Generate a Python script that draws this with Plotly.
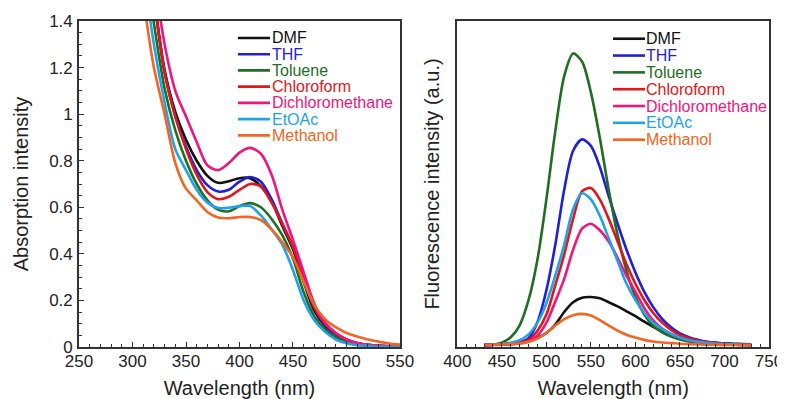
import plotly.graph_objects as go

# ---------------- data ----------------
solvents = ["DMF", "THF", "Toluene", "Chloroform", "Dichloromethane", "EtOAc", "Methanol"]
colors = ["#111111", "#1f1fd8", "#1f6e22", "#e0161b", "#f0157d", "#22a2e6", "#f26522"]

abs_wl = [300, 310, 320, 330, 340, 350, 360, 370, 380, 390, 400, 410, 420, 430, 440,
          450, 460, 470, 480, 490, 500, 510, 520, 530, 540, 550]
abs_dmf = [2.2, 1.85, 1.5, 1.19, 1.01, 0.89, 0.80, 0.735, 0.705, 0.712, 0.725, 0.725, 0.69, 0.625, 0.52,
           0.42, 0.28, 0.155, 0.09, 0.055, 0.03, 0.016, 0.009, 0.005, 0.003, 0.002]
abs_thf = [2.2, 1.85, 1.5, 1.18, 0.99, 0.86, 0.76, 0.695, 0.668, 0.675, 0.71, 0.73, 0.71, 0.635, 0.53,
           0.43, 0.29, 0.165, 0.095, 0.055, 0.03, 0.015, 0.008, 0.005, 0.003, 0.002]
abs_tol = [2.0, 1.7, 1.39, 1.11, 0.93, 0.80, 0.70, 0.63, 0.59, 0.583, 0.605, 0.618, 0.60, 0.55, 0.48,
           0.38, 0.235, 0.13, 0.075, 0.043, 0.02, 0.01, 0.005, 0.003, 0.002, 0.001]
abs_chl = [2.2, 1.85, 1.5, 1.18, 0.99, 0.85, 0.74, 0.665, 0.635, 0.645, 0.675, 0.70, 0.69, 0.62, 0.53,
           0.43, 0.30, 0.17, 0.10, 0.06, 0.032, 0.017, 0.009, 0.005, 0.003, 0.002]
abs_dcm = [2.3, 1.95, 1.6, 1.3, 1.1, 0.99, 0.88, 0.78, 0.76, 0.79, 0.835, 0.855, 0.83, 0.74, 0.59,
           0.46, 0.32, 0.185, 0.105, 0.06, 0.032, 0.017, 0.009, 0.005, 0.003, 0.002]
abs_eto = [1.95, 1.62, 1.3, 1.05, 0.85, 0.76, 0.675, 0.62, 0.597, 0.598, 0.605, 0.605, 0.565, 0.505, 0.44,
           0.33, 0.20, 0.115, 0.065, 0.032, 0.016, 0.008, 0.004, 0.002, 0.001, 0.001]
abs_met = [1.85, 1.5, 1.2, 1.0, 0.79, 0.68, 0.63, 0.58, 0.556, 0.553, 0.558, 0.558, 0.545, 0.505, 0.45,
           0.385, 0.28, 0.18, 0.12, 0.085, 0.06, 0.045, 0.032, 0.023, 0.015, 0.01]

fl_wl = [430, 440, 450, 460, 470, 480, 490, 500, 510, 520, 530, 540, 550, 560, 570, 580,
         590, 600, 610, 620, 630, 640, 650, 660, 670, 680, 690, 700, 710, 720, 730]
fl_dmf = [0.002, 0.003, 0.004, 0.006, 0.009, 0.014, 0.023, 0.038, 0.064, 0.103, 0.133, 0.147, 0.149, 0.145,
          0.133, 0.12, 0.105, 0.09, 0.073, 0.057, 0.043, 0.032, 0.024, 0.018, 0.014, 0.01, 0.008, 0.006,
          0.005, 0.004, 0.003]
fl_thf = [0.001, 0.002, 0.003, 0.005, 0.009, 0.022, 0.072, 0.17, 0.31, 0.48, 0.60, 0.635, 0.615, 0.55, 0.46,
          0.375, 0.295, 0.225, 0.165, 0.118, 0.082, 0.056, 0.037, 0.025, 0.017, 0.011, 0.008, 0.005,
          0.003, 0.002, 0.001]
fl_tol = [0.001, 0.002, 0.008, 0.025, 0.062, 0.14, 0.265, 0.45, 0.66, 0.83, 0.9, 0.875, 0.78, 0.64, 0.48,
          0.34, 0.23, 0.15, 0.095, 0.06, 0.04, 0.027, 0.018, 0.012, 0.008, 0.006, 0.004, 0.003, 0.002,
          0.001, 0.001]
fl_chl = [0.001, 0.002, 0.003, 0.005, 0.008, 0.017, 0.045, 0.095, 0.185, 0.28, 0.39, 0.475, 0.485, 0.45,
          0.39, 0.32, 0.25, 0.19, 0.14, 0.10, 0.07, 0.048, 0.032, 0.022, 0.015, 0.01, 0.007, 0.005, 0.003,
          0.002, 0.001]
fl_dcm = [0.0, 0.001, 0.002, 0.003, 0.006, 0.012, 0.03, 0.07, 0.135, 0.205, 0.295, 0.36, 0.375, 0.355,
          0.32, 0.27, 0.215, 0.165, 0.115, 0.077, 0.052, 0.035, 0.024, 0.016, 0.011, 0.007, 0.005, 0.003,
          0.002, 0.001, 0.001]
fl_eto = [0.001, 0.002, 0.004, 0.008, 0.016, 0.034, 0.07, 0.13, 0.215, 0.31, 0.42, 0.469, 0.45, 0.40,
          0.33, 0.26, 0.19, 0.14, 0.10, 0.07, 0.05, 0.035, 0.024, 0.016, 0.011, 0.008, 0.005, 0.004,
          0.003, 0.002, 0.001]
fl_met = [0.001, 0.002, 0.003, 0.004, 0.006, 0.011, 0.021, 0.038, 0.061, 0.081, 0.093, 0.097, 0.092, 0.078,
          0.061, 0.045, 0.033, 0.024, 0.017, 0.012, 0.009, 0.007, 0.005, 0.004, 0.003, 0.002, 0.002, 0.001,
          0.001, 0.001, 0.001]

abs_series = [abs_dmf, abs_thf, abs_tol, abs_chl, abs_dcm, abs_eto, abs_met]
fl_series = [fl_dmf, fl_thf, fl_tol, fl_chl, fl_dcm, fl_eto, fl_met]

abs_xticks = [250, 300, 350, 400, 450, 500, 550]
abs_yticks = [0, 0.2, 0.4, 0.6, 0.8, 1, 1.2, 1.4]
fl_xticks = [400, 450, 500, 550, 600, 650, 700, 750]

# ---------------- figure ----------------
FONT = "Arial, 'Liberation Sans', sans-serif"
AXC = "#333333"
fig = go.Figure()

for name, col, ys in zip(solvents, colors, abs_series):
    fig.add_trace(go.Scatter(x=abs_wl, y=ys, mode="lines", name=name, showlegend=False,
                             line=dict(color=col, width=2.6, shape="spline", smoothing=0.8),
                             xaxis="x", yaxis="y"))
for name, col, ys in zip(solvents, colors, fl_series):
    fig.add_trace(go.Scatter(x=fl_wl, y=ys, mode="lines", name=name, showlegend=False,
                             line=dict(color=col, width=2.6, shape="spline", smoothing=0.8),
                             xaxis="x2", yaxis="y2"))

common = dict(showline=True, mirror=True, linecolor=AXC, linewidth=1.6, showgrid=False,
              zeroline=False, tickcolor=AXC, tickwidth=1.3, ticklen=5, automargin=False,
              tickfont=dict(family=FONT, size=17, color="#222"))
title_font = dict(family=FONT, size=20, color="#222")
xminor = dict(ticks="inside", ticklen=3, dtick=10, tickcolor=AXC, tickwidth=1.2)

# the page body adds an 8px offset, so the figure is 8px smaller and margins compensate
fig.update_layout(
    width=777, height=391,
    margin=dict(l=71, r=16, t=13, b=52),
    paper_bgcolor="white", plot_bgcolor="white",
    xaxis=dict(domain=[0, 0.4652], range=[250, 550], tickvals=abs_xticks, ticks="inside",
               minor=xminor, ticklabelstandoff=-2,
               title=dict(text="Wavelength (nm)", font=title_font, standoff=12), anchor="y", **common),
    yaxis=dict(domain=[0, 1], range=[0, 1.4], tickvals=abs_yticks, ticks="inside",
               minor=dict(ticks="inside", ticklen=3, dtick=0.05, tickcolor=AXC, tickwidth=1.2),
               ticklabelstandoff=1,
               title=dict(text="Absorption intensity", font=title_font, standoff=15), anchor="x", **common),
    xaxis2=dict(domain=[0.5483, 1], range=[400, 750], tickvals=fl_xticks, ticks="inside",
                minor=xminor, ticklabelstandoff=-2,
                title=dict(text="Wavelength (nm)", font=title_font, standoff=12), anchor="y2", **common),
    yaxis2=dict(domain=[0, 1], range=[-0.005, 1.0], showticklabels=False, anchor="x2", ticks="",
                title=dict(text="Fluorescence intensity (a.u.)", font=title_font, standoff=11),
                **common),
)

# ---------------- legends (drawn as text + swatch lines) ----------------
legends = [
    dict(xref="x domain", yref="y domain", x0=0.495, x1=0.595, xt=0.594, ytop=0.948, dy=0.0498),
    dict(xref="x2 domain", yref="y2 domain", x0=0.4995, x1=0.602, xt=0.6, ytop=0.9456, dy=0.0516),
]
for lg in legends:
    for i, (name, col) in enumerate(zip(solvents, colors)):
        yy = lg["ytop"] - i * lg["dy"]
        fig.add_shape(type="line", xref=lg["xref"], yref=lg["yref"], x0=lg["x0"], x1=lg["x1"],
                      y0=yy, y1=yy, line=dict(color=col, width=2.6))
        fig.add_annotation(xref=lg["xref"], yref=lg["yref"], x=lg["xt"], y=yy, text=name,
                           showarrow=False, xanchor="left", yanchor="middle",
                           font=dict(family=FONT, size=16, color=col))

fig.write_html("out.html")
